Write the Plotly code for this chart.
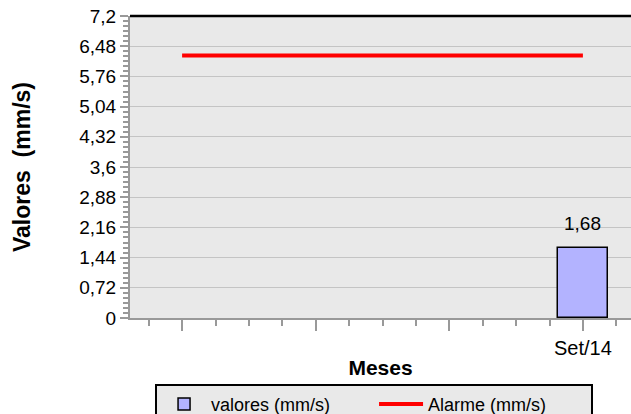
import plotly.graph_objects as go

# Data
categorias = [0, 1, 2, 3]
rotulos_x = ["", "", "", "Set/14"]
valores_x = [3]
valores = [1.68]
alarme = [6.26, 6.26, 6.26, 6.26]
y_ticks = [0, 0.72, 1.44, 2.16, 2.88, 3.6, 4.32, 5.04, 5.76, 6.48, 7.2]

FONT = "Liberation Sans, Arial, sans-serif"
GRAY = "#999999"

fig = go.Figure()
fig.add_trace(go.Bar(
    x=valores_x, y=valores, name="valores (mm/s)", width=0.38,
    marker=dict(color="#b3b3ff", line=dict(color="black", width=1.5)),
))
fig.add_trace(go.Scatter(
    x=categorias, y=alarme, name="Alarme (mm/s)", mode="lines",
    line=dict(color="#ff0000", width=4),
))

for xv, yv in zip(valores_x, valores):
    fig.add_annotation(
        x=xv, y=yv, text=f"{yv:.2f}".replace(".", ","), showarrow=False,
        yanchor="bottom", yshift=12, font=dict(size=19, family=FONT, color="black"),
    )

fig.update_layout(
    width=631, height=414,
    margin=dict(l=130, r=0, t=16, b=96, autoexpand=False),
    paper_bgcolor="white", plot_bgcolor="#e9e9e9",
    separators=",.",
    font=dict(family=FONT, size=19, color="black"),
    showlegend=True,
    legend=dict(
        orientation="h", x=0.05, xanchor="left", y=-0.218, yanchor="top",
        bgcolor="#e9e9e9", bordercolor="black", borderwidth=2,
        font=dict(size=18, family=FONT), entrywidth=158, itemwidth=44,
        traceorder="normal",
    ),
    bargap=0,
)
fig.update_xaxes(
    range=[-0.39, 3.36], tickmode="array", tickvals=categorias, ticktext=rotulos_x,
    ticks="outside", ticklen=11, tickcolor=GRAY, tickwidth=1.5,
    showline=True, linecolor=GRAY, linewidth=2, showgrid=False, zeroline=False,
    minor=dict(tickmode="linear", tick0=0, dtick=0.25, ticks="outside", ticklen=6,
               tickcolor=GRAY, tickwidth=1.5, showgrid=False),
    title=dict(text="<b>Meses</b>", font=dict(size=21, family=FONT), standoff=2),
    tickfont=dict(size=20), ticklabeloverflow="allow",
)
fig.update_yaxes(
    range=[0, 7.2], tickmode="array", tickvals=y_ticks,
    ticks="outside", ticklen=8, tickcolor=GRAY, tickwidth=1.5,
    showline=True, linecolor=GRAY, linewidth=2,
    showgrid=True, gridcolor="#c4c4c4", gridwidth=1, zeroline=False,
    minor=dict(tickmode="linear", tick0=0, dtick=0.12, ticks="outside", ticklen=5,
               tickcolor=GRAY, tickwidth=1.5, showgrid=False),
    title=dict(text="<b>Valores\u00a0\u00a0(mm/s)</b>", font=dict(size=23, family=FONT), standoff=42),
    tickfont=dict(size=19), ticklabeloverflow="allow",
)
fig.add_shape(type="line", xref="paper", yref="paper", x0=0, x1=1, y0=1, y1=1,
              line=dict(color="black", width=2.5))

fig.write_html("out.html", config={"displayModeBar": False},
               post_script="document.body.style.margin='0';")
